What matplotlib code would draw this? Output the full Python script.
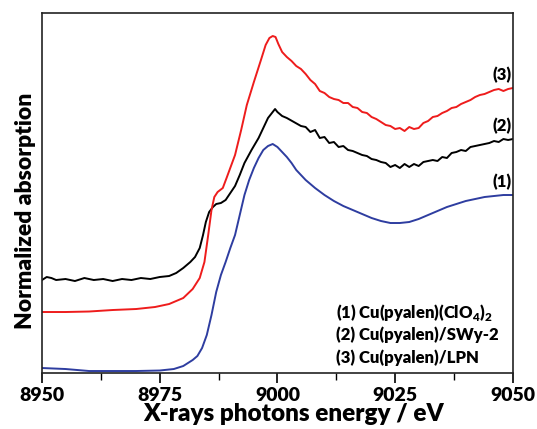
import matplotlib
matplotlib.use("Agg")
import matplotlib.pyplot as plt
from matplotlib.ticker import MultipleLocator

plt.rcParams['font.family'] = ['Lato', 'DejaVu Sans']
plt.rcParams['mathtext.fontset'] = 'custom'
plt.rcParams['mathtext.rm'] = 'Lato:heavy'
plt.rcParams['mathtext.bf'] = 'Lato:heavy'
W = 800  # heavy weight

# Energies (eV) and normalized absorption (arbitrary, offset-stacked)
energy_1 = [8950, 8955, 8960, 8965, 8970, 8975, 8978, 8980, 8982, 8983, 8984, 8985, 8986,
            8987, 8988, 8989, 8990, 8991, 8992, 8993, 8994, 8995, 8996, 8997, 8998, 8999,
            9000, 9001, 9002, 9003, 9004, 9005, 9006, 9008, 9010, 9012, 9014, 9016, 9018,
            9020, 9022, 9024, 9026, 9028, 9030, 9032, 9034, 9036, 9038, 9040, 9042, 9044,
            9046, 9048, 9050]
absorb_1 = [0.05, 0.04, 0.02, 0.02, 0.02, 0.025, 0.04, 0.07, 0.13, 0.17, 0.25, 0.38, 0.58,
            0.81, 0.98, 1.11, 1.25, 1.38, 1.58, 1.78, 1.93, 2.05, 2.15, 2.23, 2.27, 2.29,
            2.26, 2.21, 2.16, 2.10, 2.03, 1.98, 1.93, 1.85, 1.78, 1.72, 1.67, 1.63, 1.59,
            1.55, 1.52, 1.50, 1.50, 1.51, 1.54, 1.58, 1.62, 1.66, 1.69, 1.72, 1.74, 1.76,
            1.77, 1.78, 1.78]

energy_2 = [8950, 8951, 8952, 8953, 8955, 8957, 8959, 8961, 8963, 8965, 8967, 8969, 8971,
            8973, 8975, 8977, 8978.5, 8980, 8981.5, 8982.5, 8983.5, 8984.2, 8984.8, 8985.5,
            8986.3, 8987, 8988, 8989, 8990, 8991, 8992, 8993, 8994.5, 8996, 8997, 8998,
            8999, 8999.5, 9000, 9001, 9002, 9003.5, 9005, 9006, 9007, 9008, 9009, 9010,
            9011, 9012, 9013, 9014, 9015, 9016, 9017, 9018, 9019, 9020, 9021, 9022, 9023,
            9024, 9025, 9026, 9027, 9028, 9029, 9030, 9031, 9032, 9033, 9034, 9035, 9036,
            9037, 9038, 9039, 9040, 9041, 9042, 9043, 9044, 9045, 9046, 9047, 9048, 9049, 9050]
absorb_2 = [0.93, 0.96, 0.95, 0.93, 0.94, 0.92, 0.95, 0.93, 0.94, 0.92, 0.94, 0.93, 0.95,
            0.94, 0.96, 0.97, 1.00, 1.05, 1.11, 1.16, 1.25, 1.38, 1.51, 1.61,
            1.66, 1.69, 1.70, 1.73, 1.80, 1.87, 1.98, 2.10, 2.23, 2.35, 2.45, 2.55,
            2.61, 2.64, 2.61, 2.57, 2.55, 2.51, 2.47, 2.46, 2.41, 2.43, 2.35, 2.36,
            2.30, 2.31, 2.26, 2.27, 2.23, 2.22, 2.20, 2.18, 2.17, 2.14, 2.13, 2.11, 2.10,
            2.06, 2.08, 2.05, 2.09, 2.06, 2.09, 2.07, 2.11, 2.12, 2.13, 2.12, 2.16, 2.15,
            2.20, 2.21, 2.23, 2.22, 2.26, 2.27, 2.28, 2.29, 2.30, 2.32, 2.31, 2.34, 2.33, 2.34]

energy_3 = [8950, 8955, 8960, 8965, 8970, 8974, 8977, 8980, 8982, 8983.5, 8984.5, 8985.3,
            8986, 8986.6, 8987.3, 8988.4, 8989.2, 8991, 8992.3, 8993.5, 8995, 8996.5,
            8997.5, 8998.3, 8999, 8999.6, 9000.2, 9001, 9002, 9003, 9004, 9005, 9006,
            9007, 9008, 9009, 9010, 9011, 9012, 9013, 9014, 9015, 9016, 9017, 9018, 9019,
            9020, 9021, 9022, 9023, 9024, 9025, 9026, 9027, 9028, 9029, 9030, 9031, 9032,
            9033, 9034, 9035, 9036, 9037, 9038, 9039, 9040, 9041, 9042, 9043, 9044, 9045,
            9046, 9047, 9048, 9049, 9050]
absorb_3 = [0.61, 0.61, 0.615, 0.63, 0.64, 0.66, 0.69, 0.75, 0.84, 0.95, 1.11, 1.38,
            1.63, 1.76, 1.81, 1.85, 1.95, 2.18, 2.43, 2.68, 2.91, 3.13,
            3.28, 3.35, 3.37, 3.36, 3.29, 3.21, 3.16, 3.12, 3.07, 3.04, 2.99,
            2.93, 2.89, 2.82, 2.80, 2.76, 2.74, 2.73, 2.70, 2.70, 2.66, 2.65, 2.61, 2.60,
            2.56, 2.54, 2.51, 2.48, 2.47, 2.44, 2.45, 2.42, 2.46, 2.44, 2.45, 2.50, 2.52,
            2.56, 2.57, 2.60, 2.62, 2.65, 2.66, 2.69, 2.71, 2.73, 2.76, 2.78, 2.79, 2.81,
            2.83, 2.84, 2.82, 2.84, 2.85]

series_labels = ['(1)', '(2)', '(3)']
legend_lines = [r'(1) Cu(pyalen)(ClO$_\mathbf{4}$)$_\mathbf{2}$',
                '(2) Cu(pyalen)/SWy-2',
                '(3) Cu(pyalen)/LPN']
xticks = [8950, 8975, 9000, 9025, 9050]

fig = plt.figure(figsize=(5.37, 4.29), dpi=100)
ax = fig.add_axes([0.0782, 0.1305, 0.8768, 0.8392])

ax.plot(energy_1, absorb_1, color='#2e3da0', lw=1.4)
ax.plot(energy_2, absorb_2, color='black', lw=1.4)
ax.plot(energy_3, absorb_3, color='#ee1c1c', lw=1.4)

ax.set_xlim(8950, 9050)
ax.set_ylim(0, 3.6)
ax.set_xticks(xticks)
ax.set_xticklabels([str(t) for t in xticks], fontsize=14, fontweight=W)
ax.xaxis.set_minor_locator(MultipleLocator(12.5))
ax.set_yticks([])
ax.tick_params(axis='x', which='major', length=7, width=1.2, direction='out', pad=3)
ax.tick_params(axis='x', which='minor', length=5, width=1.0, direction='out')
for s in ax.spines.values():
    s.set_linewidth(1.2)
    s.set_color('#222222')

ax.set_xlabel('X-rays photons energy / eV', fontsize=17.5, fontweight=W)
ax.xaxis.set_label_coords(0.535, -0.083)
ax.set_ylabel('Normalized absorption', fontsize=16.5, fontweight=W)
ax.yaxis.set_label_coords(-0.012, 0.45)

# curve labels at right end
for lab, arr in zip(series_labels, [absorb_1, absorb_2, absorb_3]):
    ax.text(9049.8, arr[-1] + 0.05, lab, ha='right', va='bottom',
            fontsize=12, fontweight=W)

for i, t in enumerate(legend_lines):
    ax.text(9012.5, 0.61 - i * 0.23, t, ha='left', va='center', fontsize=12,
            fontweight=W)

fig.savefig('out.png', dpi=100)
